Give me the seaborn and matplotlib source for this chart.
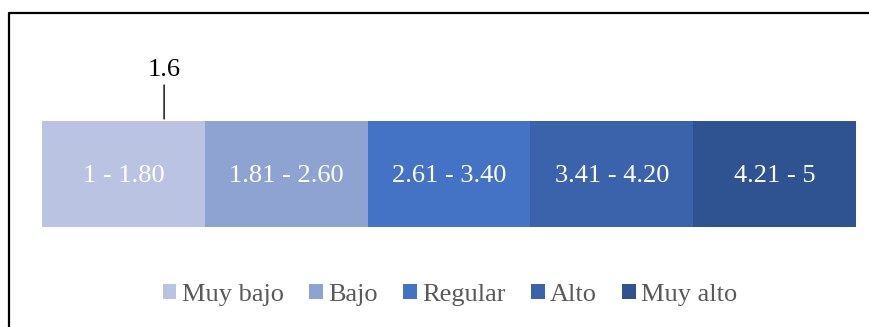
import matplotlib
matplotlib.use("Agg")
import matplotlib.pyplot as plt
from matplotlib.lines import Line2D
from matplotlib.patches import Patch
import seaborn as sns
import pandas as pd

sns.set_theme(style="white")
plt.rcParams["font.family"] = ["Liberation Serif", "DejaVu Serif"]

# Scale levels and their ranges
niveles = ["Muy bajo", "Bajo", "Regular", "Alto", "Muy alto"]
limite_inf = [1.00, 1.81, 2.61, 3.41, 4.21]
limite_sup = [1.80, 2.60, 3.40, 4.20, 5.00]
rangos = ["1 - 1.80", "1.81 - 2.60", "2.61 - 3.40", "3.41 - 4.20", "4.21 - 5"]
colores = ["#BAC4E2", "#8FA3D3", "#4472C4", "#3A63AB", "#2F5391"]

# Observed mean
media = 1.6
media_txt = "1.6"

W, H = 870, 327
fig = plt.figure(figsize=(W / 100, H / 100), dpi=100)
ax = fig.add_axes([42 / W, (H - 227) / H, (856 - 42) / W, (227 - 121) / H])

df = pd.DataFrame({"nivel": niveles, "sup": limite_sup, "fila": ["escala"] * 5})

# Stacked bar: draw widest segment first, narrower ones on top
for i in reversed(range(len(niveles))):
    sns.barplot(data=df.iloc[[i]], x="sup", y="fila", color=colores[i],
                width=1.0, orient="h", ax=ax, saturation=1.0,
                linewidth=0, edgecolor="none")

# Centre of each segment, from the lower edge of the drawn bar
inicio = [limite_inf[0]] + limite_sup[:-1]
for lo, hi, txt in zip(inicio, limite_sup, rangos):
    ax.text((lo + hi) / 2, 0, txt, ha="center", va="center_baseline",
            color="white", fontsize=19)

ax.set_xlim(limite_inf[0], limite_sup[-1])
ax.set_ylim(0.5, -0.5)
ax.axis("off")

# Marker for the mean above the bar
ax.annotate("", xy=(media, 1.0 + 2 / 106), xycoords=("data", "axes fraction"),
            xytext=(media, 1.0 + 36 / 106), textcoords=("data", "axes fraction"),
            arrowprops=dict(arrowstyle="-", color="black", lw=1.0,
                            shrinkA=0, shrinkB=0))
ax.text(media, 1.0 + 54 / 106, media_txt, transform=ax.get_xaxis_transform(),
        ha="center", va="center_baseline", fontsize=19, color="black")

handles = [Patch(facecolor=c, edgecolor="none") for c in colores]
fig.legend(handles, niveles, loc="center", bbox_to_anchor=(450 / W, 1 - 295 / H),
           ncol=5, frameon=False, fontsize=19, labelcolor="#595959",
           handlelength=0.53, handleheight=0.53, handletextpad=0.2,
           columnspacing=0.95)

# Chart frame (left and top edges)
fig.add_artist(Line2D([9.5 / W, 9.5 / W, 1.0], [0.0, 1 - 12.5 / H, 1 - 12.5 / H],
                      transform=fig.transFigure, color="black", lw=1.6))

fig.savefig("out.png", dpi=100)
